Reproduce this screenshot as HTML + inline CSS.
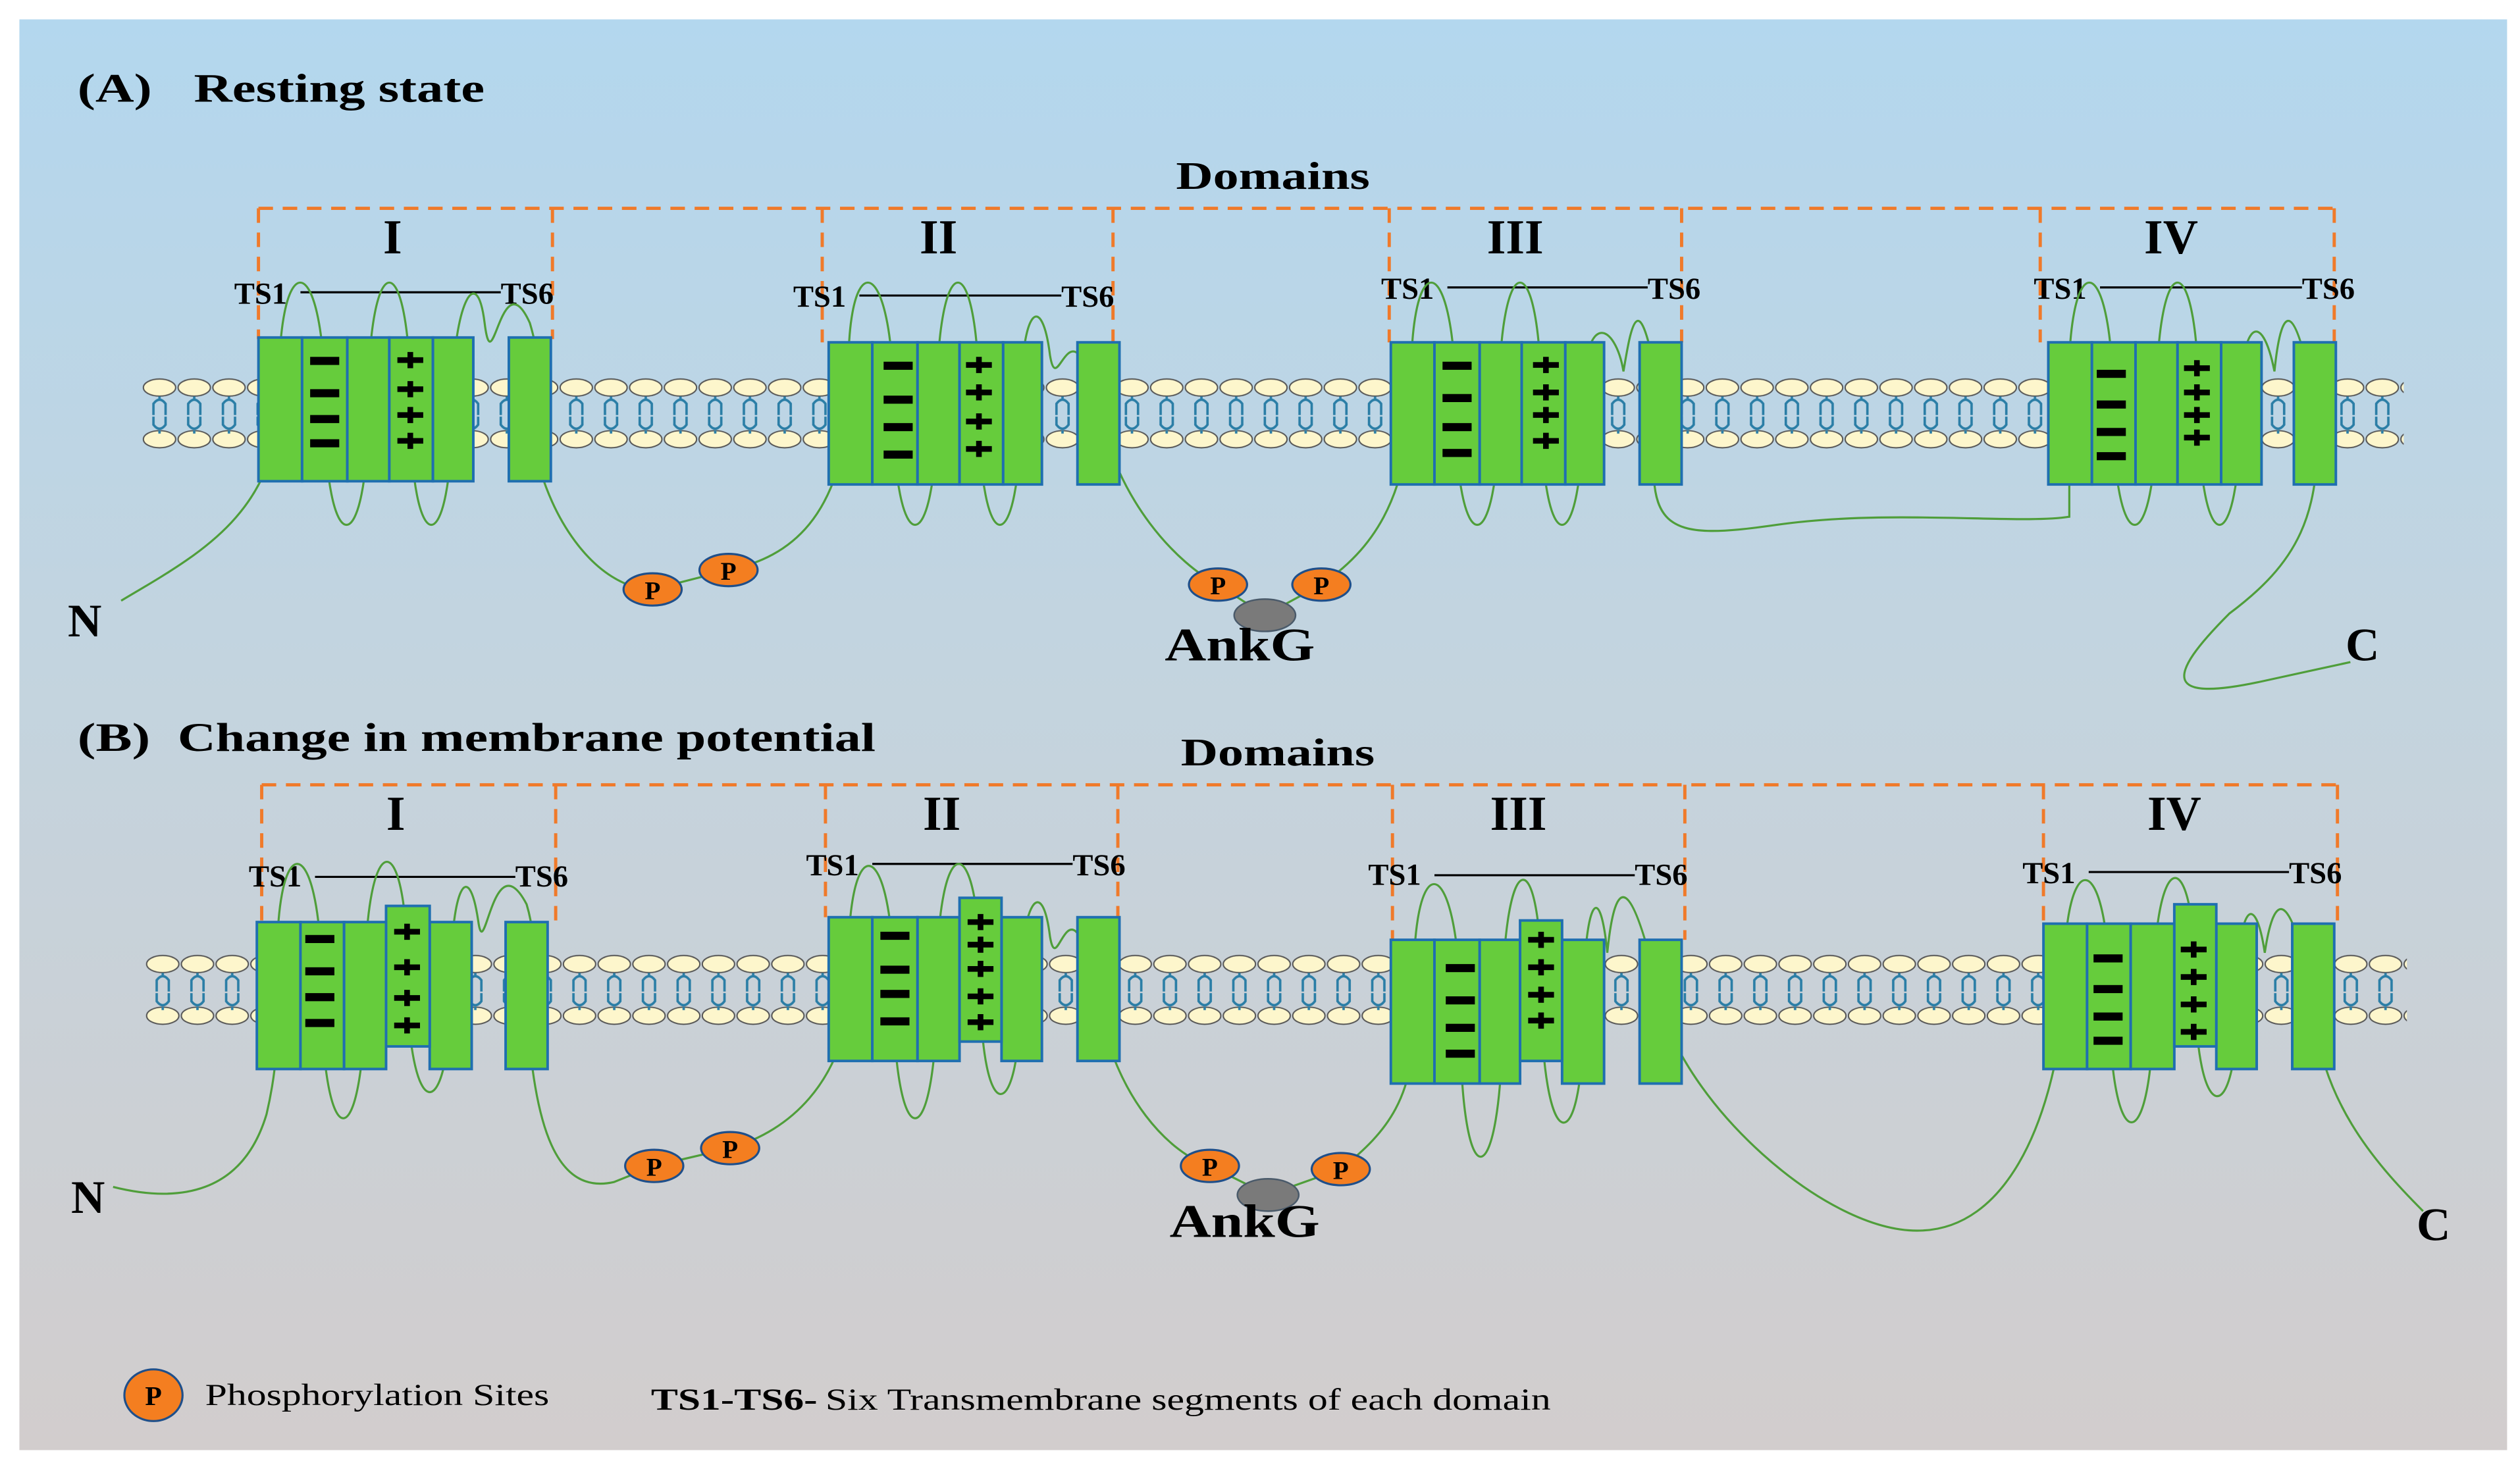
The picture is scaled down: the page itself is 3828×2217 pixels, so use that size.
<!DOCTYPE html>
<html><head><meta charset="utf-8"><style>
html,body{margin:0;padding:0;background:#fff}
svg{display:block}
text{font-family:"Liberation Serif",serif}
</style></head><body>
<svg width="3828" height="2217" viewBox="0 0 1560 903.5" preserveAspectRatio="none" xmlns="http://www.w3.org/2000/svg">
<defs>
<linearGradient id="bg" x1="0" y1="0" x2="0" y2="1">
<stop offset="0" stop-color="#b3d7ee"/><stop offset="0.45" stop-color="#c3d4df"/><stop offset="1" stop-color="#d2cdcd"/>
</linearGradient>
<pattern id="memA" patternUnits="userSpaceOnUse" x="88" y="232" width="21.5" height="48">
<ellipse cx="10.75" cy="8" rx="10" ry="5.3" fill="#fdf6cc" stroke="#555" stroke-width="0.8"/>
<ellipse cx="10.75" cy="40" rx="10" ry="5.3" fill="#fdf6cc" stroke="#555" stroke-width="0.8"/>
<path d="M10.75,13.5 v2 M7,25 V18 Q10.75,13 14.5,18 V25 M7,26 V31 Q10.75,36 14.5,31 V26 M10.75,34.5 v2" fill="none" stroke="#2b7ea6" stroke-width="1.5"/>
</pattern>
<pattern id="memB" patternUnits="userSpaceOnUse" x="90" y="589" width="21.5" height="48">
<ellipse cx="10.75" cy="8" rx="10" ry="5.3" fill="#fdf6cc" stroke="#555" stroke-width="0.8"/>
<ellipse cx="10.75" cy="40" rx="10" ry="5.3" fill="#fdf6cc" stroke="#555" stroke-width="0.8"/>
<path d="M10.75,13.5 v2 M7,25 V18 Q10.75,13 14.5,18 V25 M7,26 V31 Q10.75,36 14.5,31 V26 M10.75,34.5 v2" fill="none" stroke="#2b7ea6" stroke-width="1.5"/>
</pattern>
</defs>
<rect x="12" y="12" width="1540" height="886" fill="url(#bg)"/>

<!-- ===== Panel A ===== -->
<text x="48" y="63" font-size="25" font-weight="bold"><tspan textLength="46" lengthAdjust="spacingAndGlyphs">(A)</tspan><tspan x="120" textLength="180" lengthAdjust="spacingAndGlyphs">Resting state</tspan></text>
<text x="728" y="117" font-size="24" font-weight="bold" textLength="120" lengthAdjust="spacingAndGlyphs">Domains</text>
<g fill="none" stroke="#f07a2a" stroke-width="2" stroke-dasharray="9,6">
<path d="M160,129 H1445"/>
<path d="M160,129 V210 M342,129 V210 M509,129 V212 M689,129 V212 M860,129 V212 M1041,129 V212 M1263,129 V212 M1445,129 V212"/>
</g>
<g font-size="30" font-weight="bold" text-anchor="middle">
<text x="243" y="157">I</text><text x="581" y="157">II</text><text x="938" y="157">III</text><text x="1344" y="157">IV</text>
</g>
<g font-size="19" font-weight="bold">
<text x="145" y="188">TS1</text><text x="310" y="188">TS6</text>
<text x="491" y="190">TS1</text><text x="657" y="190">TS6</text>
<text x="855" y="185">TS1</text><text x="1020" y="185">TS6</text>
<text x="1259" y="185">TS1</text><text x="1425" y="185">TS6</text>
</g>
<g stroke="#000" stroke-width="1.3">
<path d="M186,181 H310 M532,183 H657 M896,178 H1020 M1300,178 H1425"/>
</g>
<rect x="88" y="232" width="1400" height="48" fill="url(#memA)"/>

<!-- loops A -->
<g fill="none" stroke="#4f9e3a" stroke-width="1.3">
<path d="M75,372 C120,345 170,320 173,250 C170,150 201,150 201,250 C201,350 228,350 228,250 C228,150 254,150 254,250 C254,350 280,350 280,250 C280,190 295,160 300,200 C305,240 310,160 328,200 C340,240 330,270 328,250"/>
<path d="M328,260 C335,320 370,365 404,365 L451,353 C490,345 520,320 526,250"/>
<path d="M526,250 C520,150 553,150 553,250 C553,350 580,350 580,250 C580,150 606,150 606,250 C606,350 632,350 632,250 C632,190 645,180 650,220 C655,250 662,180 680,250"/>
<path d="M680,250 C690,310 730,350 754,362 L783,381 L818,362 C850,340 870,310 874,250"/>
<path d="M874,250 C870,150 901,150 901,250 C901,350 928,350 928,250 C928,150 954,150 954,250 C954,350 980,350 980,250 C980,190 1000,200 1005,230 C1010,200 1015,170 1028,250"/>
<path d="M1028,250 C1015,330 1030,335 1100,325 C1170,315 1250,325 1281,320 L1281,250"/>
<path d="M1281,250 C1278,150 1308,150 1308,250 C1308,350 1335,350 1335,250 C1335,150 1361,150 1361,250 C1361,350 1387,350 1387,250 C1387,200 1400,190 1408,230 C1412,190 1420,180 1433,250"/>
<path d="M1433,250 C1440,320 1420,350 1380,380 C1340,420 1340,435 1400,422 L1455,410"/>
</g>

<!-- blocks A -->
<g fill="#66cc3c" stroke="#1f6fb0" stroke-width="1.6">
<rect x="160" y="209" width="27" height="89"/><rect x="187" y="209" width="28" height="89"/><rect x="215" y="209" width="26" height="89"/><rect x="241" y="209" width="27" height="89"/><rect x="268" y="209" width="25" height="89"/><rect x="315" y="209" width="26" height="89"/>
<rect x="513" y="212" width="27" height="88"/><rect x="540" y="212" width="28" height="88"/><rect x="568" y="212" width="26" height="88"/><rect x="594" y="212" width="27" height="88"/><rect x="621" y="212" width="24" height="88"/><rect x="667" y="212" width="26" height="88"/>
<rect x="861" y="212" width="27" height="88"/><rect x="888" y="212" width="28" height="88"/><rect x="916" y="212" width="26" height="88"/><rect x="942" y="212" width="27" height="88"/><rect x="969" y="212" width="24" height="88"/><rect x="1015" y="212" width="26" height="88"/>
<rect x="1268" y="212" width="27" height="88"/><rect x="1295" y="212" width="27" height="88"/><rect x="1322" y="212" width="26" height="88"/><rect x="1348" y="212" width="27" height="88"/><rect x="1375" y="212" width="25" height="88"/><rect x="1420" y="212" width="26" height="88"/>
</g>
<g fill="#000">
<rect x="192" y="221" width="18" height="5"/><rect x="192" y="241" width="18" height="5"/><rect x="192" y="257" width="18" height="5"/><rect x="192" y="272" width="18" height="5"/>
<rect x="547" y="224" width="18" height="5"/><rect x="547" y="245" width="18" height="5"/><rect x="547" y="262" width="18" height="5"/><rect x="547" y="279" width="18" height="5"/>
<rect x="893" y="224" width="18" height="5"/><rect x="893" y="244" width="18" height="5"/><rect x="893" y="262" width="18" height="5"/><rect x="893" y="278" width="18" height="5"/>
<rect x="1298" y="229" width="18" height="5"/><rect x="1298" y="248" width="18" height="5"/><rect x="1298" y="265" width="18" height="5"/><rect x="1298" y="280" width="18" height="5"/>
</g>
<g stroke="#000" stroke-width="3.5" fill="none">
<path d="M246,223 h16 M254,218 v10 M246,241 h16 M254,236 v10 M246,257 h16 M254,252 v10 M246,273 h16 M254,268 v10"/>
<path d="M598,226 h16 M606,221 v10 M598,243 h16 M606,238 v10 M598,261 h16 M606,256 v10 M598,278 h16 M606,273 v10"/>
<path d="M949,226 h16 M957,221 v10 M949,243 h16 M957,238 v10 M949,257 h16 M957,252 v10 M949,273 h16 M957,268 v10"/>
<path d="M1352,228 h16 M1360,223 v10 M1352,243 h16 M1360,238 v10 M1352,257 h16 M1360,252 v10 M1352,271 h16 M1360,266 v10"/>
</g>

<!-- P sites A -->
<g fill="#f47e20" stroke="#1f4f8a" stroke-width="1.3">
<ellipse cx="404" cy="365" rx="18" ry="10"/><ellipse cx="451" cy="353" rx="18" ry="10"/>
<ellipse cx="754" cy="362" rx="18" ry="10"/><ellipse cx="818" cy="362" rx="18" ry="10"/>
</g>
<ellipse cx="783" cy="381" rx="19" ry="10" fill="#7a7a7a" stroke="#4a5a6a" stroke-width="1"/>
<g font-size="16" font-weight="bold" text-anchor="middle">
<text x="404" y="371">P</text><text x="451" y="359">P</text><text x="754" y="368">P</text><text x="818" y="368">P</text>
</g>
<g font-size="29" font-weight="bold">
<text x="42" y="394">N</text><text x="1452" y="409">C</text><text x="721" y="409" textLength="93" lengthAdjust="spacingAndGlyphs">AnkG</text>
</g>

<!-- ===== Panel B ===== -->
<text x="48" y="465" font-size="25" font-weight="bold"><tspan textLength="45" lengthAdjust="spacingAndGlyphs">(B)</tspan><tspan x="110" textLength="432" lengthAdjust="spacingAndGlyphs">Change  in  membrane  potential</tspan></text>
<text x="731" y="474" font-size="24" font-weight="bold" textLength="120" lengthAdjust="spacingAndGlyphs">Domains</text>
<g fill="none" stroke="#f07a2a" stroke-width="2" stroke-dasharray="9,6">
<path d="M162,486 H1447"/>
<path d="M162,486 V571 M344,486 V571 M511,486 V568 M692,486 V568 M862,486 V582 M1043,486 V582 M1265,486 V572 M1447,486 V572"/>
</g>
<g font-size="30" font-weight="bold" text-anchor="middle">
<text x="245" y="514">I</text><text x="583" y="514">II</text><text x="940" y="514">III</text><text x="1346" y="514">IV</text>
</g>
<g font-size="19" font-weight="bold">
<text x="154" y="549">TS1</text><text x="319" y="549">TS6</text>
<text x="499" y="542">TS1</text><text x="664" y="542">TS6</text>
<text x="847" y="548">TS1</text><text x="1012" y="548">TS6</text>
<text x="1252" y="547">TS1</text><text x="1417" y="547">TS6</text>
</g>
<g stroke="#000" stroke-width="1.3">
<path d="M195,543 H319 M540,535 H664 M888,542 H1012 M1293,540 H1417"/>
</g>
<rect x="90" y="589" width="1400" height="48" fill="url(#memB)"/>

<!-- loops B -->
<g fill="none" stroke="#4f9e3a" stroke-width="1.3">
<path d="M70,735 C110,745 150,740 165,690 C172,660 172,640 172,610 C168,510 199,510 199,610 C199,720 226,720 226,610 C226,510 252,510 252,600 C252,700 279,700 279,610 C279,550 290,530 296,570 C300,600 305,520 326,560 C335,590 326,610 326,620"/>
<path d="M326,620 C330,700 345,740 380,732 L405,722 L452,711 C490,700 520,670 526,620"/>
<path d="M526,620 C520,510 553,510 553,610 C553,720 580,720 580,610 C580,510 607,510 607,610 C607,700 632,700 632,610 C632,560 645,540 650,580 C655,610 662,530 680,620"/>
<path d="M680,620 C690,680 725,715 749,722 L785,740 L830,724 C860,700 875,680 876,630"/>
<path d="M876,630 C870,520 904,520 904,630 C904,750 930,740 930,630 C930,520 954,520 954,610 C954,720 980,720 980,630 C980,560 990,540 995,590 C1000,540 1010,540 1028,620"/>
<path d="M1028,620 C1040,680 1130,765 1190,762 C1240,760 1270,700 1278,620"/>
<path d="M1278,620 C1275,520 1306,520 1306,620 C1306,720 1333,720 1333,620 C1333,520 1359,520 1359,610 C1359,700 1385,700 1385,620 C1385,560 1396,550 1402,590 C1408,550 1418,550 1432,620"/>
<path d="M1432,620 C1435,680 1470,720 1500,750"/>
</g>

<!-- blocks B -->
<g fill="#66cc3c" stroke="#1f6fb0" stroke-width="1.6">
<rect x="159" y="571" width="27" height="91"/><rect x="186" y="571" width="27" height="91"/><rect x="213" y="571" width="26" height="91"/><rect x="266" y="571" width="26" height="91"/><rect x="239" y="561" width="27" height="87"/><rect x="313" y="571" width="26" height="91"/>
<rect x="513" y="568" width="27" height="89"/><rect x="540" y="568" width="28" height="89"/><rect x="568" y="568" width="26" height="89"/><rect x="620" y="568" width="25" height="89"/><rect x="594" y="556" width="26" height="89"/><rect x="667" y="568" width="26" height="89"/>
<rect x="861" y="582" width="27" height="89"/><rect x="888" y="582" width="28" height="89"/><rect x="916" y="582" width="25" height="89"/><rect x="967" y="582" width="26" height="89"/><rect x="941" y="570" width="26" height="87"/><rect x="1015" y="582" width="26" height="89"/>
<rect x="1265" y="572" width="27" height="90"/><rect x="1292" y="572" width="27" height="90"/><rect x="1319" y="572" width="27" height="90"/><rect x="1372" y="572" width="25" height="90"/><rect x="1346" y="560" width="26" height="88"/><rect x="1419" y="572" width="26" height="90"/>
</g>
<g fill="#000">
<rect x="189" y="579" width="18" height="5"/><rect x="189" y="599" width="18" height="5"/><rect x="189" y="615" width="18" height="5"/><rect x="189" y="631" width="18" height="5"/>
<rect x="545" y="577" width="18" height="5"/><rect x="545" y="598" width="18" height="5"/><rect x="545" y="613" width="18" height="5"/><rect x="545" y="630" width="18" height="5"/>
<rect x="895" y="597" width="18" height="5"/><rect x="895" y="617" width="18" height="5"/><rect x="895" y="634" width="18" height="5"/><rect x="895" y="650" width="18" height="5"/>
<rect x="1296" y="591" width="18" height="5"/><rect x="1296" y="610" width="18" height="5"/><rect x="1296" y="627" width="18" height="5"/><rect x="1296" y="642" width="18" height="5"/>
</g>
<g stroke="#000" stroke-width="3.5" fill="none">
<path d="M244,577 h16 M252,572 v10 M244,599 h16 M252,594 v10 M244,618 h16 M252,613 v10 M244,635 h16 M252,630 v10"/>
<path d="M599,571 h16 M607,566 v10 M599,585 h16 M607,580 v10 M599,600 h16 M607,595 v10 M599,617 h16 M607,612 v10 M599,633 h16 M607,628 v10"/>
<path d="M946,582 h16 M954,577 v10 M946,599 h16 M954,594 v10 M946,616 h16 M954,611 v10 M946,632 h16 M954,627 v10"/>
<path d="M1350,588 h16 M1358,583 v10 M1350,605 h16 M1358,600 v10 M1350,622 h16 M1358,617 v10 M1350,639 h16 M1358,634 v10"/>
</g>

<!-- P sites B -->
<g fill="#f47e20" stroke="#1f4f8a" stroke-width="1.3">
<ellipse cx="405" cy="722" rx="18" ry="10"/><ellipse cx="452" cy="711" rx="18" ry="10"/>
<ellipse cx="749" cy="722" rx="18" ry="10"/><ellipse cx="830" cy="724" rx="18" ry="10"/>
</g>
<ellipse cx="785" cy="740" rx="19" ry="10" fill="#7a7a7a" stroke="#4a5a6a" stroke-width="1"/>
<g font-size="16" font-weight="bold" text-anchor="middle">
<text x="405" y="728">P</text><text x="452" y="717">P</text><text x="749" y="728">P</text><text x="830" y="730">P</text>
</g>
<g font-size="29" font-weight="bold">
<text x="44" y="751">N</text><text x="1496" y="768">C</text><text x="724" y="766" textLength="93" lengthAdjust="spacingAndGlyphs">AnkG</text>
</g>

<!-- Legend -->
<ellipse cx="95" cy="864" rx="18" ry="16" fill="#f47e20" stroke="#1f4f8a" stroke-width="1.3"/>
<text x="95" y="870" font-size="17" font-weight="bold" text-anchor="middle">P</text>
<text x="127" y="870" font-size="19" textLength="213" lengthAdjust="spacingAndGlyphs">Phosphorylation  Sites</text>
<text x="403" y="873" font-size="19"><tspan font-weight="bold" textLength="103" lengthAdjust="spacingAndGlyphs">TS1-TS6-</tspan><tspan x="511" textLength="449" lengthAdjust="spacingAndGlyphs">Six Transmembrane  segments  of each domain</tspan></text>
</svg>
</body></html>
